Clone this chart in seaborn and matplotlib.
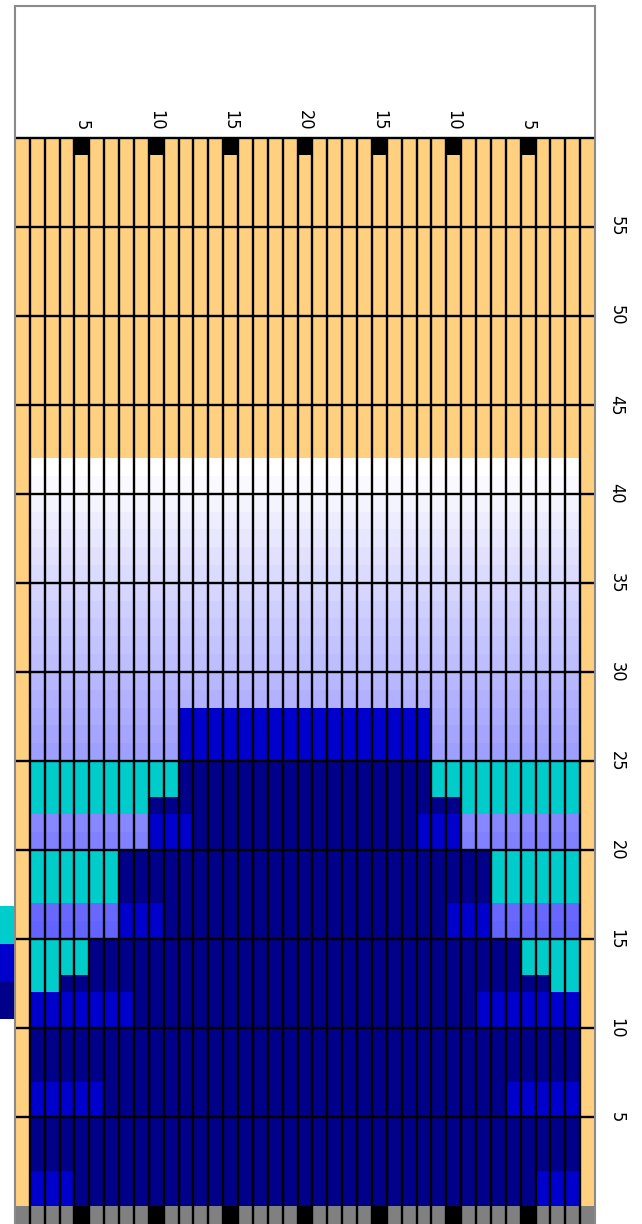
import numpy as np
import pandas as pd
import matplotlib
matplotlib.use("Agg")
import matplotlib.pyplot as plt
from matplotlib import font_manager
from matplotlib.colors import ListedColormap, LinearSegmentedColormap
import seaborn as sns

# Grid size: 39 columns (centre column 20), rows 1..60 plus the base row 0
n_cols = 39
n_rows = 60
top_level = 42  # rows above this one are empty (tan)

# Tick labels
col_ticks = [5, 10, 15, 20, 25, 30, 35]
col_tick_labels = ["5", "10", "15", "20", "15", "10", "5"]
row_ticks = [5, 10, 15, 20, 25, 30, 35, 40, 45, 50, 55]

# Per row (rows 1..42), widths counted from the outer wall towards the centre
# order from the wall: sky -> cyan -> blue -> navy (rest)
sky_width = [0, 0, 0, 0, 0, 0, 0, 0, 0, 0, 0, 0, 0, 0, 0, 6, 6, 0, 0, 0, 8,
             8, 0, 0, 0, 10, 10, 10, 19, 19, 19, 19, 19, 19, 19, 19, 19, 19, 19, 19, 19, 19]
cyan_width = [0, 0, 0, 0, 0, 0, 0, 0, 0, 0, 0, 0, 2, 4, 4, 0, 0, 6, 6, 6, 0,
              0, 8, 10, 10, 0, 0, 0, 0, 0, 0, 0, 0, 0, 0, 0, 0, 0, 0, 0, 0, 0]
blue_width = [3, 3, 0, 0, 0, 5, 5, 0, 0, 0, 7, 7, 0, 0, 0, 3, 3, 0, 0, 0, 3,
              3, 0, 0, 0, 9, 9, 9, 0, 0, 0, 0, 0, 0, 0, 0, 0, 0, 0, 0, 0, 0]

# Colours  (codes: 0 sky, 1 cyan, 2 blue, 3 navy, 4 tan, 5 black, 6 gray)
cat_colors = ["#ffffff", "#00cccc", "#0000cc", "#000088", "#ffd07f", "#000000", "#808080"]
cat_cmap = ListedColormap(cat_colors)
sky_cmap = LinearSegmentedColormap.from_list("sky", ["#5d5dff", "#ffffff"])

# Build the cell codes, row 60 at the top
codes = np.zeros((n_rows + 1, n_cols), dtype=int)
for i, r in enumerate(range(n_rows, -1, -1)):
    for j in range(n_cols):
        c = j + 1
        k = min(c, n_cols + 1 - c) - 1  # 0 = wall column
        if r == 0:
            codes[i, j] = 5 if c in col_ticks else 6
        elif r == n_rows:
            codes[i, j] = 5 if c in col_ticks else 4
        elif r > top_level or k == 0:
            codes[i, j] = 4
        else:
            s = sky_width[r - 1]
            cy = cyan_width[r - 1]
            b = blue_width[r - 1]
            if k <= s:
                codes[i, j] = 0
            elif k <= s + cy:
                codes[i, j] = 1
            elif k <= s + cy + b:
                codes[i, j] = 2
            else:
                codes[i, j] = 3

row_index = list(range(n_rows, -1, -1))
col_index = list(range(1, n_cols + 1))
codes_df = pd.DataFrame(codes, index=row_index, columns=col_index)
height_df = pd.DataFrame(np.repeat(np.array(row_index, dtype=float)[:, None], n_cols, axis=1),
                         index=row_index, columns=col_index)

# Font (narrow if available)
names = {f.name for f in font_manager.fontManager.ttflist}
if "Liberation Sans Narrow" in names:
    label_font = dict(family="Liberation Sans Narrow")
else:
    label_font = dict(family="DejaVu Sans", stretch="condensed")

# Figure
fig = plt.figure(figsize=(6.42, 12.24), dpi=100)
ax = fig.add_axes([15 / 642, 0, 580 / 642, 1218 / 1224])

# sky gradient behind, categories on top
sns.heatmap(height_df, mask=(codes_df != 0), cmap=sky_cmap, vmin=15, vmax=42,
            cbar=False, xticklabels=False, yticklabels=False, ax=ax)
sns.heatmap(codes_df, mask=(codes_df == 0), cmap=cat_cmap, vmin=-0.5, vmax=6.5,
            cbar=False, xticklabels=False, yticklabels=False, ax=ax)

# column separators and 5-row lines
ax.vlines(np.arange(1, n_cols), 0, n_rows + 1, color="black", lw=1.7)
ax.hlines([0] + [n_rows - v for v in row_ticks], 0, n_cols, color="black", lw=1.7)

ax.set_xlim(0, n_cols)
ax.set_ylim(n_rows + 1, -7.39)

# column labels just above the grid
for c, lab in zip(col_ticks, col_tick_labels):
    ax.text(c - 0.5, -0.4, lab, rotation=-90, ha="center", va="bottom",
            fontsize=13, color="black", **label_font)

# row labels on the right
ax.yaxis.tick_right()
ax.set_yticks([n_rows - v for v in row_ticks])
ax.set_yticklabels([str(v) for v in row_ticks], rotation=-90, va="center",
                   fontsize=13, **label_font)
ax.tick_params(axis="y", length=0, pad=9)
ax.tick_params(axis="x", length=0)
ax.set_xlabel("")
ax.set_ylabel("")

for side in ["left", "right", "top"]:
    ax.spines[side].set_visible(True)
    ax.spines[side].set_color("#8a8a8a")
    ax.spines[side].set_linewidth(1.5)
ax.spines["bottom"].set_visible(False)

# legend swatches, cut off at the left edge
ax_leg = fig.add_axes([0, (1224 - 1019) / 1224, 14 / 642, 113 / 1224])
leg_df = pd.DataFrame([[1], [2], [3]])
sns.heatmap(leg_df, cmap=cat_cmap, vmin=-0.5, vmax=6.5, cbar=False,
            xticklabels=False, yticklabels=False, ax=ax_leg)
ax_leg.set_axis_off()

fig.savefig("out.png", dpi=100)
